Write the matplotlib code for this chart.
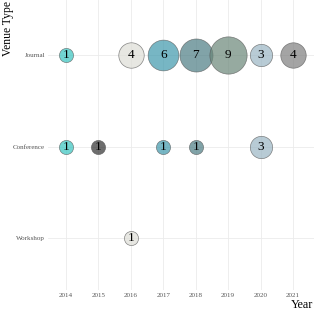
import matplotlib
matplotlib.use("Agg")
import matplotlib.pyplot as plt

plt.rcParams['font.family'] = ['Liberation Serif', 'DejaVu Serif']

# Publication counts per venue type and year
venues = ['Workshop', 'Conference', 'Journal']
years = [2014, 2015, 2016, 2017, 2018, 2019, 2020, 2021]

journal_years = [2014, 2016, 2017, 2018, 2019, 2020, 2021]
journal_counts = [1, 4, 6, 7, 9, 3, 4]
conference_years = [2014, 2015, 2017, 2018, 2020]
conference_counts = [1, 1, 1, 1, 3]
workshop_years = [2016]
workshop_counts = [1]

# One fill colour per year
year_colors = {
    2014: '#36c4bf', 2015: '#303030', 2016: '#deded6', 2017: '#3e97ab',
    2018: '#4c7d83', 2019: '#6a8678', 2020: '#9ab6c4', 2021: '#7e7e7e',
}


def bubble_size(n):
    # marker area grows linearly with count (ggplot scale_size style)
    return 104.0 + (n - 1) * 77.0


fig = plt.figure(figsize=(3.14, 3.14), dpi=100)
ax = fig.add_axes([48 / 314, 24 / 314, 266 / 314, 290 / 314])

series = [
    ('Journal', journal_years, journal_counts),
    ('Conference', conference_years, conference_counts),
    ('Workshop', workshop_years, workshop_counts),
]

for venue, yrs, counts in series:
    ypos = venues.index(venue)
    for yr, n in zip(yrs, counts):
        ax.scatter(yr, ypos, s=bubble_size(n), color=year_colors[yr], alpha=0.7,
                   edgecolors='#555555', linewidths=0.5, zorder=3)
        ax.text(yr, ypos, str(n), ha='center', va='center', fontsize=9.5,
                color='black', zorder=4)

ax.set_xlim(2013.445, 2021.65)
ax.set_ylim(-0.568, 2.601)
ax.set_xticks(years)
ax.set_xticklabels([str(y) for y in years])
ax.set_yticks(range(len(venues)))
ax.set_yticklabels(venues)

ax.grid(True, color='#ebebeb', linewidth=0.6, zorder=0)
ax.set_axisbelow(True)
for sp in ax.spines.values():
    sp.set_visible(False)
ax.tick_params(axis='both', length=0, labelsize=5, labelcolor='#555555', pad=2)

fig.text(8 / 314, 1 - 29 / 314, 'Venue Type', rotation=90, ha='center',
         va='center', fontsize=8.4)
fig.text(313 / 314, 1 - 305 / 314, 'Year', ha='right', va='center', fontsize=8.7)

fig.savefig('out.png', dpi=100)
